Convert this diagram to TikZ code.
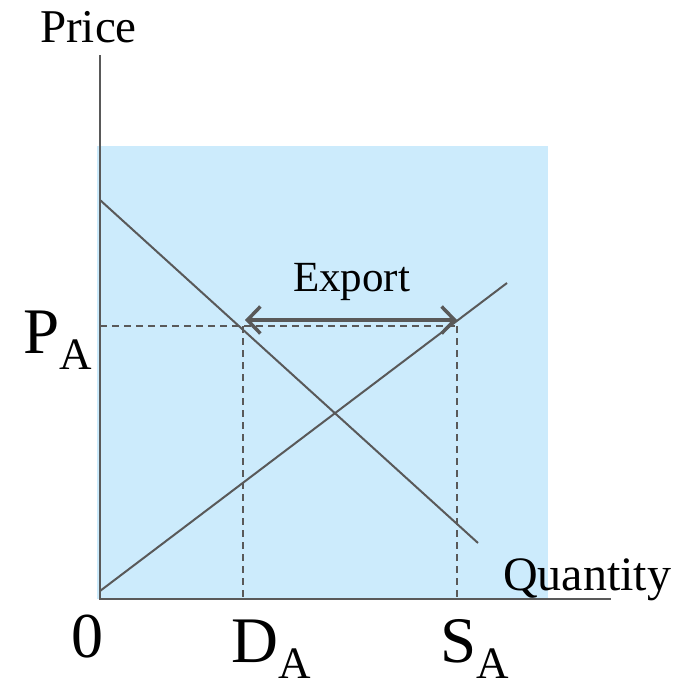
\documentclass[tikz,border=0pt]{standalone}
\usepackage{fontspec}
\setmainfont{Liberation Serif}
\usetikzlibrary{arrows.meta}
\definecolor{axisgray}{HTML}{595959}
\definecolor{skyfill}{HTML}{CCEBFC}
\tikzstyle{axis} = [draw=axisgray, line width=2pt]
\tikzstyle{curve} = [draw=axisgray, line width=2pt]
\tikzstyle{guide} = [draw=axisgray, line width=1.8pt, dash pattern=on 7pt off 5pt]
\tikzstyle{arrow} = [draw=axisgray, line width=3.5pt, {Straight Barb[length=13pt,width=27pt]}-{Straight Barb[length=13pt,width=27pt]}]
\tikzstyle{tag} = [inner sep=0pt, anchor=base west, text=black]

\begin{document}
\begin{tikzpicture}[x=1pt,y=-1pt]
\useasboundingbox (0,0) rectangle (689,689);
\fill[skyfill] (97,146) rectangle (548,599);

\coordinate (origin) at (100,599);
\coordinate (ytop) at (100,55);
\coordinate (xend) at (611,599);
\coordinate (dstart) at (100,200);
\coordinate (dend) at (478,543);
\coordinate (sstart) at (100,591);
\coordinate (send) at (507,283);
\coordinate (pa) at (100,326);
\coordinate (dpt) at (243,326);
\coordinate (spt) at (457,326);
\coordinate (dfoot) at (243,599);
\coordinate (sfoot) at (457,599);
\coordinate (aleft) at (245,320);
\coordinate (aright) at (457,320);

\draw [guide] (pa) -- (spt);
\draw [guide] (dpt) -- (dfoot);
\draw [guide] (spt) -- (sfoot);
\draw [curve] (dstart) -- (dend);
\draw [curve] (sstart) -- (send);
\draw [axis] (ytop) -- (origin) -- (xend);
\draw [arrow] (aleft) -- (aright);

\node (price) [tag] at (40,42) {\fontsize{47}{50}\selectfont Price};
\node (qty) [tag] at (503,590) {\fontsize{48}{52}\selectfont Quantity};
\node (export) [tag] at (293,291) {\fontsize{43}{46}\selectfont Export};
\node (zero) [tag] at (71,657) {\fontsize{64}{70}\selectfont 0};
\node (palbl) [tag] at (23,353) {\fontsize{65}{70}\selectfont P\raisebox{-16pt}{\fontsize{45}{48}\selectfont A}};
\node (dalbl) [tag] at (231,662) {\fontsize{65}{70}\selectfont D\raisebox{-16pt}{\fontsize{45}{48}\selectfont A}};
\node (salbl) [tag] at (440,662) {\fontsize{65}{70}\selectfont S\raisebox{-16pt}{\fontsize{45}{48}\selectfont A}};
\end{tikzpicture}
\end{document}
